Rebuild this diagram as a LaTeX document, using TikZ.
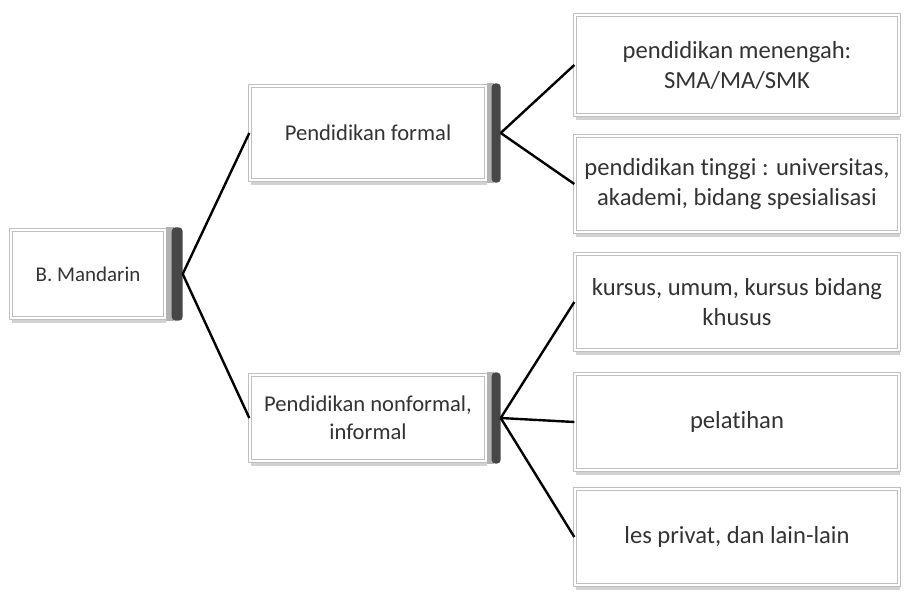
\documentclass[tikz,border=0pt]{standalone}
\usepackage{fontspec}
\setmainfont{Carlito}[Ligatures=NoCommon]
\usetikzlibrary{shadows}
\begin{document}
\begin{tikzpicture}[x=0.5pt,y=-0.5pt]
	    \tikzset{
	    	kotak/.style={draw=gray!50, double=white, double distance=1pt, line width=0.7pt, fill=white, align=center, text=black!80, inner sep=0pt, font=\fontsize{12.3}{15}\selectfont, minimum width=162pt, minimum height=48pt, drop shadow={shadow xshift=0.6pt, shadow yshift=-2.5pt, fill=gray!35, opacity=1}},
	    	sisi/.style={kotak, font=\fontsize{11.3}{14}\selectfont, minimum width=118pt},
	    	garis/.style={line width=1.2pt}
	    }
	    \useasboundingbox (0,0) rectangle (904,599);
	    % kiri
	    \node[sisi, font=\fontsize{10.5}{13}\selectfont, minimum width=77pt, minimum height=44pt] (man) at (88,274) {B. Mandarin};
	    \node[sisi, minimum height=47pt] (formal) at (368,133) {Pendidikan formal};
	    \node[sisi, minimum height=43pt] (nonformal) at (368,418) {Pendidikan nonformal,\\informal};
	    \foreach \n/\w in {man/8.5pt,formal/7pt,nonformal/7pt} {
	    	\fill[gray!60] ([yshift=1pt]\n.north east) rectangle ([xshift=0.5*\w, yshift=-1pt]\n.south east);
	    	\fill[black!72, rounded corners=2pt] ([xshift=0.35*\w, yshift=1pt]\n.north east) rectangle ([xshift=\w, yshift=-1pt]\n.south east);
	    	\coordinate (\n-kanan) at ([xshift=\w]\n.east);
	    }
	    % kanan
	    \node[kotak, minimum height=50pt] (smk) at (737,65) {pendidikan menengah:\\SMA/MA/SMK};
	    \node[kotak] (univ) at (737,184) {pendidikan tinggi : universitas,\\akademi, bidang spesialisasi};
	    \node[kotak] (kursus) at (737,302) {kursus, umum, kursus bidang\\khusus};
	    \node[kotak] (latih) at (737,422) {pelatihan};
	    \node[kotak] (les) at (737,537) {les privat, dan lain-lain};
	    % garis
	    \draw[garis] (man-kanan) -- (formal.west);
	    \draw[garis] (man-kanan) -- (nonformal.west);
	    \draw[garis] (formal-kanan) -- (smk.west);
	    \draw[garis] (formal-kanan) -- (univ.west);
	    \draw[garis] (nonformal-kanan) -- (kursus.west);
	    \draw[garis] (nonformal-kanan) -- (latih.west);
	    \draw[garis] (nonformal-kanan) -- (les.west);
	\end{tikzpicture}
\end{document}
